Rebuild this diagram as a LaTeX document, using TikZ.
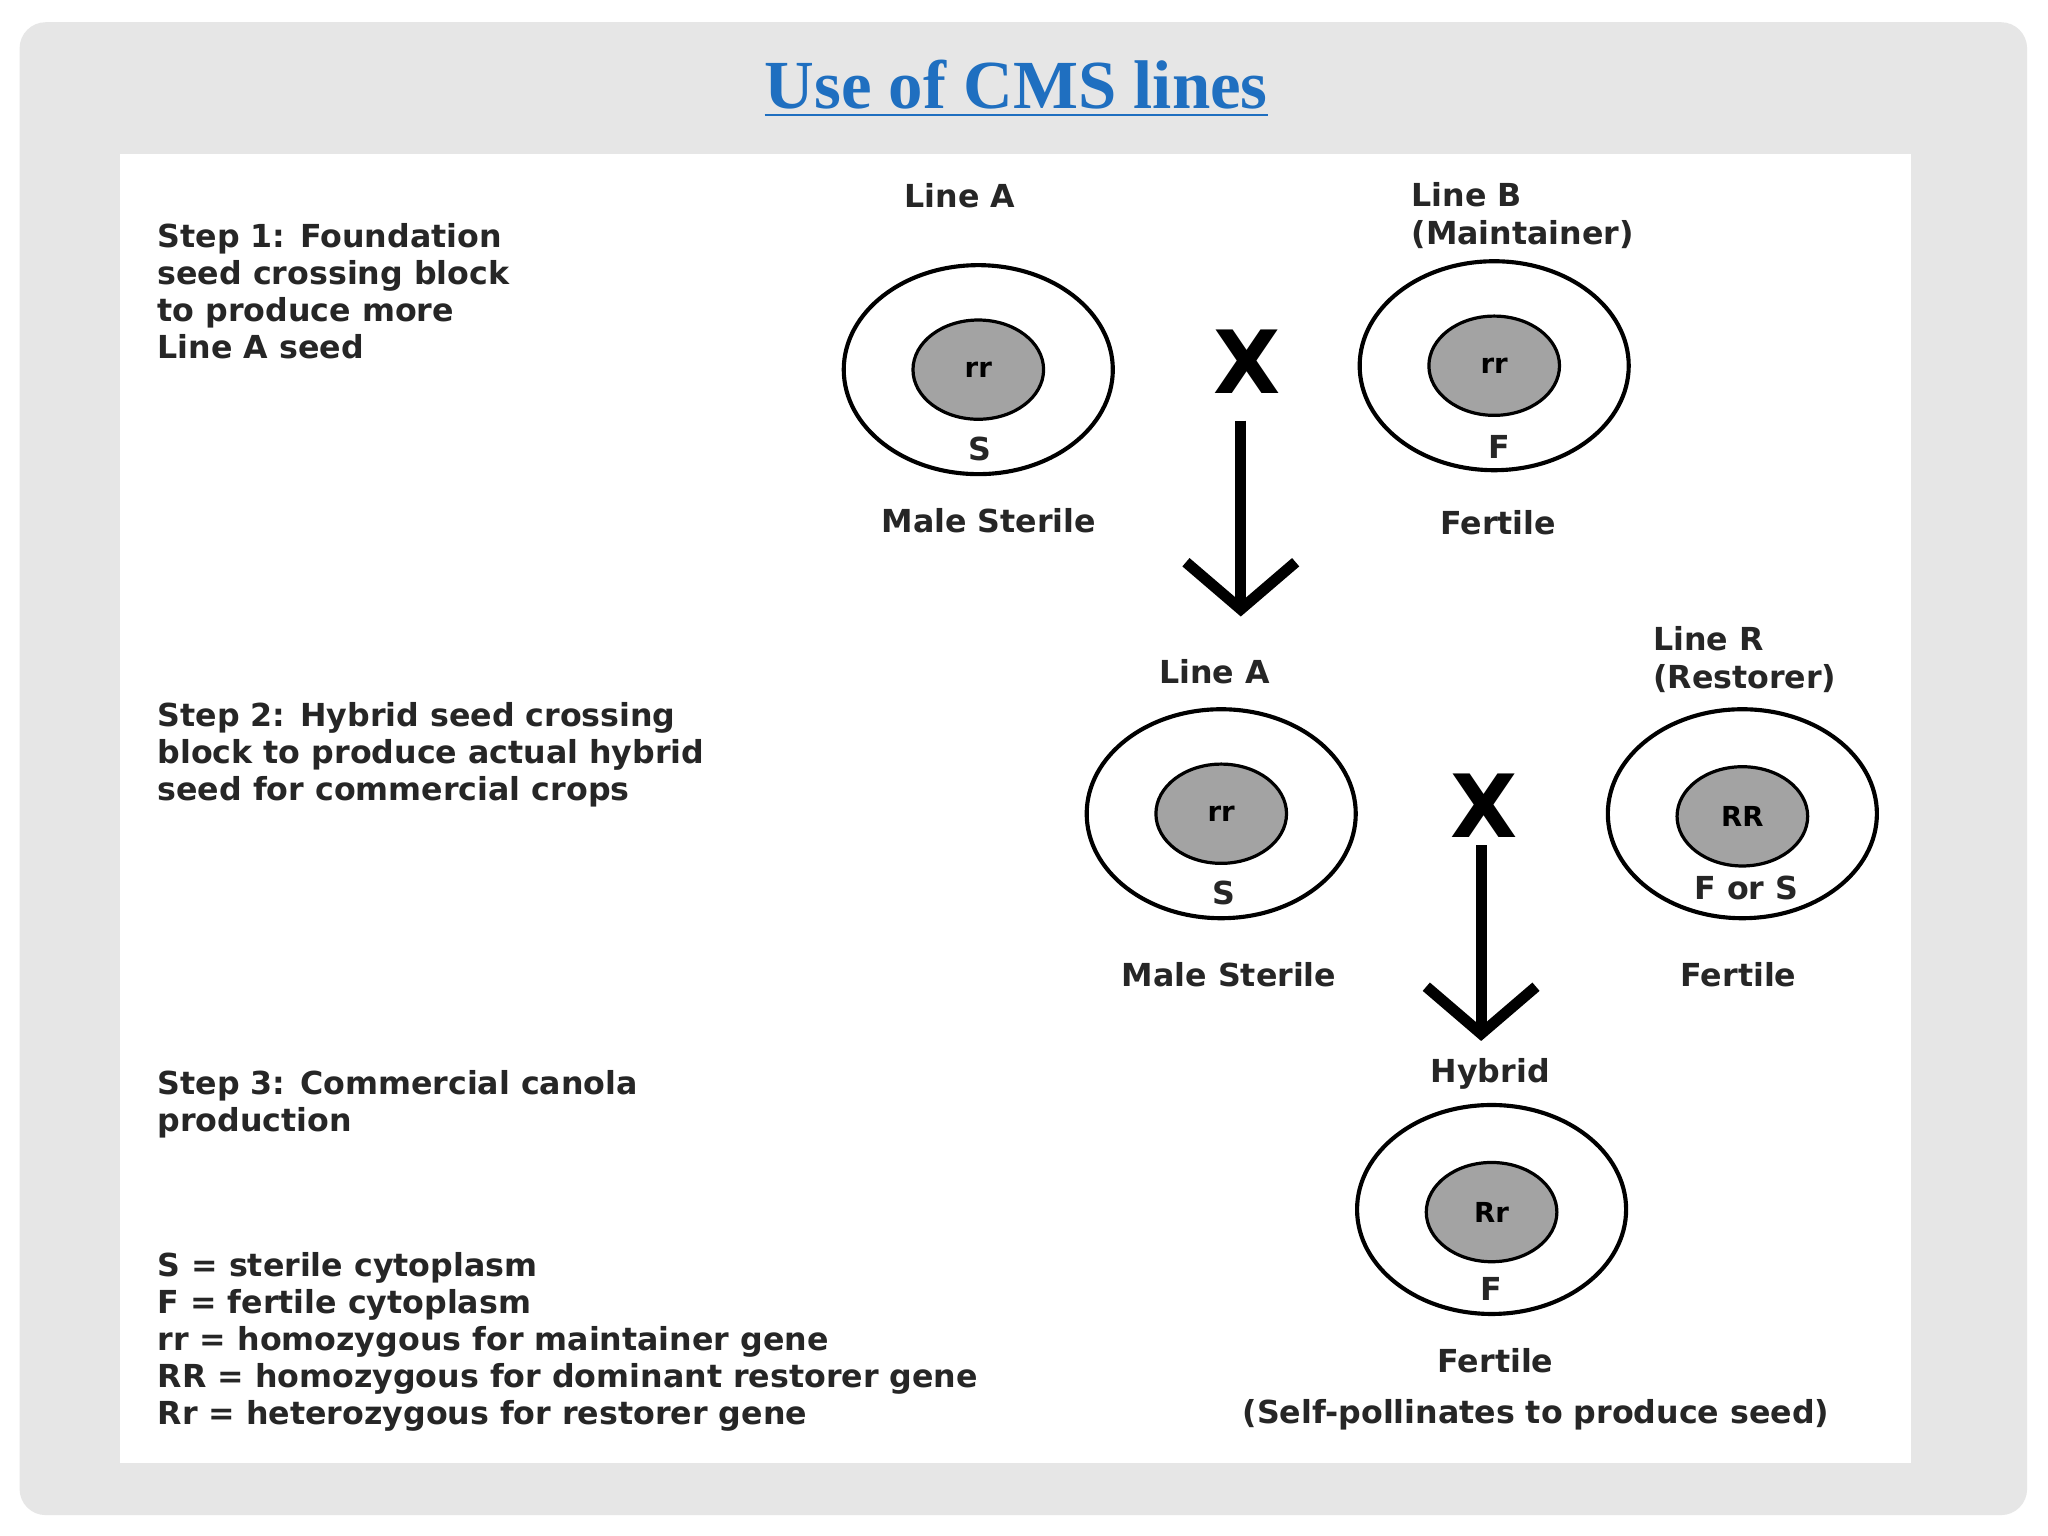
\documentclass[tikz,border=0pt]{standalone}
\usepackage{fontspec}
\setmainfont{DejaVu Sans}
\newfontfamily\titlefont{Liberation Serif}
\usetikzlibrary{shapes.geometric,arrows.meta}
\definecolor{slidegray}{HTML}{E6E6E6}
\definecolor{cellgray}{HTML}{A3A3A3}
\definecolor{titleblue}{HTML}{1F6FC0}
\tikzset{
  txt/.style={font=\fontsize{6.9}{8.1}\selectfont\bfseries, inner sep=0pt, text=black!85},
  steptext/.style={txt, anchor=north west, align=left},
  cell/.style={ellipse, draw, line width=0.9pt, minimum width=2.06cm, minimum height=1.6cm},
  nucleus/.style={ellipse, draw, line width=0.7pt, fill=cellgray, minimum width=1.0cm, minimum height=0.76cm,
    font=\fontsize{6}{7}\selectfont\bfseries},
  cross/.style={font=\fontsize{19}{20}\selectfont\bfseries, inner sep=0pt},
  down/.style={line width=2.4pt, -{Straight Barb[length=3.6mm, width=8.4mm, line width=2.4pt]}}
}
\begin{document}
\begin{tikzpicture}[x=0.1mm, y=-0.1mm]
\useasboundingbox (0,0) rectangle (1568,1176);
\fill[white] (0,0) rectangle (1568,1176);
\fill[slidegray, rounded corners=2mm] (15,17) rectangle (1552,1160);
\node[font=\titlefont\fontsize{15}{18}\selectfont\bfseries, text=titleblue] (title) at (778,68)
  {\underline{Use of CMS lines}};
\fill[white] (92,118) rectangle (1463,1120);

% step texts
\node[steptext] (s1) at (120,170) {Step 1: Foundation\\seed crossing block\\to produce more\\Line A seed};
\node[steptext] (s2) at (120,537) {Step 2: Hybrid seed crossing\\block to produce actual hybrid\\seed for commercial crops};
\node[steptext] (s3) at (120,819) {Step 3: Commercial canola\\production};
\node[steptext] (key) at (120,958) {S = sterile cytoplasm\\F = fertile cytoplasm\\rr = homozygous for maintainer gene\\RR = homozygous for dominant restorer gene\\Rr = heterozygous for restorer gene};

% step 1
\node[cell] (ca) at (749,283) {};
\node[nucleus] (na) at (749,283) {rr};
\node[txt] at (750,344) {S};
\node[cell] (cb) at (1144,280) {};
\node[nucleus] (nb) at (1144,280) {rr};
\node[txt] at (1148,342) {F};
\node[txt] (la) at (735,150) {Line A};
\node[txt, anchor=west, align=left] (lb) at (1080,165) {Line B\\(Maintainer)};
\node[txt] (ma) at (757,399) {Male Sterile};
\node[txt] (fb) at (1147,400) {Fertile};
\node[cross] (x1) at (955,277) {X};

% step 2
\node[cell] (cc) at (935,623) {};
\node[nucleus] (nc) at (935,623) {rr};
\node[txt] at (937,684) {S};
\node[cell] (cr) at (1334,623) {};
\node[nucleus] (nr) at (1334,625) {RR};
\node[txt] at (1337,680) {F or S};
\node[txt] (lc) at (930,514) {Line A};
\node[txt, anchor=west, align=left] (lr) at (1265,505) {Line R\\(Restorer)};
\node[txt] (mc) at (941,746) {Male Sterile};
\node[txt] (fr) at (1331,746) {Fertile};
\node[cross] (x2) at (1136,617) {X};

% step 3
\node[cell] (ch) at (1142,926) {};
\node[nucleus] (nh) at (1142,928) {Rr};
\node[txt] at (1142,987) {F};
\node[txt] (lh) at (1141,822) {Hybrid};
\node[txt] (fh) at (1145,1042) {Fertile};
\node[txt] (sp) at (1176,1083) {(Self-pollinates to produce seed)};

\coordinate (a1) at (950,472);
\coordinate (a2) at (1134,797);
\draw[down] ([xshift=-5*0.1mm, yshift=-2mm]x1.south) -- (a1);
\draw[down] ([xshift=-2*0.1mm, yshift=-0.5mm]x2.south) -- (a2);
\end{tikzpicture}
\end{document}
